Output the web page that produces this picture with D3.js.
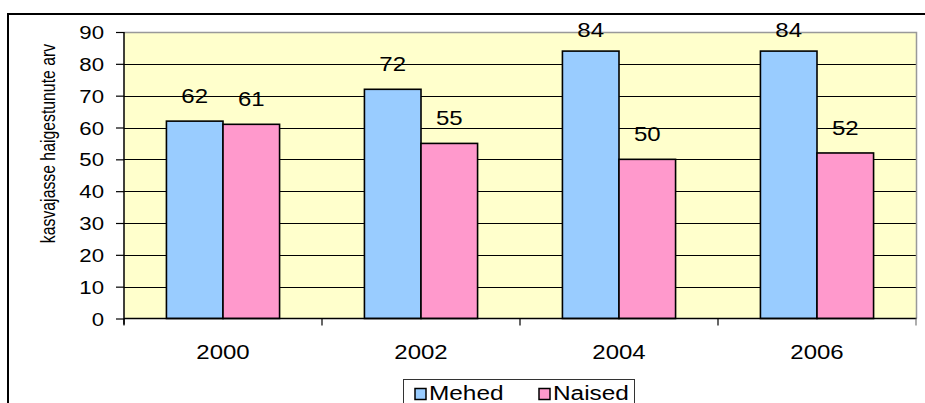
<!DOCTYPE html>
<meta charset="utf-8">
<script src="https://d3js.org/d3.v7.min.js"></script>
<style>
  body { margin: 0; background: #fff; }
  text { font-family: "Liberation Sans", Arial, sans-serif; fill: #000; }
</style>
<div id="chart"></div>
<script>
  // data
  var years = ["2000", "2002", "2004", "2006"];
  var series = ["Mehed", "Naised"];
  var mehed = [62, 72, 84, 84];
  var naised = [61, 55, 50, 52];
  var colors = ["#99CCFF", "#FF99CC"];
  var yTicks = [0, 10, 20, 30, 40, 50, 60, 70, 80, 90];
  var yTitle = "kasvajasse haigestunute arv";

  var W = 925, H = 403;
  var margin = { top: 32, right: 9, bottom: 84.5, left: 124 },
    width = W - margin.left - margin.right,
    height = H - margin.top - margin.bottom;
  var sx = 1.2; // text looks stretched sideways

  var svg = d3.select("#chart").append("svg")
    .attr("width", W).attr("height", H);

  // outer frame
  svg.append("rect")
    .attr("x", 8).attr("y", 14).attr("width", W + 10).attr("height", H + 10)
    .attr("fill", "none").attr("stroke", "#000").attr("stroke-width", 2);

  var g = svg.append("g")
    .attr("transform", "translate(" + margin.left + "," + margin.top + ")");

  var x = d3.scaleBand().domain(years).range([0, width]).padding(0);
  var x1 = d3.scaleBand().domain(series).range([0, x.bandwidth()])
    .paddingInner(0).paddingOuter(0.75);
  var y = d3.scaleLinear().domain([0, 90]).range([height, 0]);

  // plot background
  g.append("rect").attr("width", width).attr("height", height)
    .attr("fill", "#FFFFCC");

  // gridlines
  g.selectAll(".grid").data(yTicks.filter(function (d) { return d > 0 && d < 90; }))
    .enter().append("line")
    .attr("x1", 0).attr("x2", width)
    .attr("y1", function (d) { return Math.round(y(d)) + 0.5; })
    .attr("y2", function (d) { return Math.round(y(d)) + 0.5; })
    .attr("stroke", "#000").attr("stroke-width", 1);

  // gray border top / right
  g.append("path")
    .attr("d", "M0," + (Math.round(y(90)) + 0.5) + "H" + (width + 0.5) + "V" + height)
    .attr("fill", "none").attr("stroke", "#999").attr("stroke-width", 1.5);

  // bars
  var data = years.map(function (yr, i) {
    return { year: yr, vals: [mehed[i], naised[i]] };
  });
  var grp = g.selectAll(".grp").data(data).enter().append("g")
    .attr("transform", function (d) { return "translate(" + x(d.year) + ",0)"; });

  grp.selectAll("rect")
    .data(function (d) { return d.vals.map(function (v, j) { return { s: series[j], v: v, c: colors[j] }; }); })
    .enter().append("rect")
    .attr("x", function (d) { return x1(d.s); })
    .attr("y", function (d) { return y(d.v); })
    .attr("width", x1.bandwidth())
    .attr("height", function (d) { return height - y(d.v); })
    .attr("fill", function (d) { return d.c; })
    .attr("stroke", "#000").attr("stroke-width", 1.6);

  // value labels
  grp.selectAll(".lbl")
    .data(function (d) { return d.vals.map(function (v, j) { return { s: series[j], v: v }; }); })
    .enter().append("text")
    .attr("text-anchor", "middle")
    .style("font-size", "20px")
    .attr("transform", function (d) {
      var ty = Math.max(y(d.v) - 18, 5);
      return "translate(" + (x1(d.s) + x1.bandwidth() / 2) + "," + ty + ") scale(" + sx + ",1)";
    })
    .text(function (d) { return d.v; });

  // y axis
  var yAxis = g.append("g")
    .call(d3.axisLeft(y).tickValues(yTicks).tickSize(8).tickSizeOuter(0));
  yAxis.select(".domain").attr("stroke", "#000").attr("stroke-width", 1.5)
    .attr("d", "M0,0V" + (height + 6));
  yAxis.selectAll(".tick line").attr("stroke", "#000").attr("stroke-width", 1.2);
  yAxis.selectAll(".tick text")
    .attr("x", null).attr("dy", "0.36em")
    .attr("transform", "translate(-20,0) scale(" + sx + ",1)")
    .style("font-size", "18.5px")
    .style("font-family", "'Liberation Sans', Arial, sans-serif")
    .attr("fill", "#000");

  // x axis
  var xAxis = g.append("g").attr("transform", "translate(0," + height + ")");
  xAxis.append("line").attr("x1", 0).attr("x2", width + 0.5)
    .attr("stroke", "#000").attr("stroke-width", 1.5);
  xAxis.selectAll(".xt").data(years.concat(["end"])).enter().append("line")
    .attr("x1", function (d) { return d === "end" ? width : x(d); })
    .attr("x2", function (d) { return d === "end" ? width : x(d); })
    .attr("y1", 0).attr("y2", 7)
    .attr("stroke", function (d) { return d === "end" ? "#777" : "#000"; })
    .attr("stroke-width", 1.2);
  xAxis.selectAll(".xl").data(years).enter().append("text")
    .attr("text-anchor", "middle")
    .style("font-size", "20px")
    .attr("transform", function (d) {
      return "translate(" + (x(d) + x.bandwidth() / 2) + ",40) scale(" + sx + ",1)";
    })
    .text(function (d) { return d; });

  // y title
  svg.append("text")
    .attr("text-anchor", "middle")
    .style("font-size", "15.8px")
    .attr("transform", "translate(55,143.5) rotate(-90) scale(1,1.3)")
    .text(yTitle);

  // legend
  var leg = svg.append("g").attr("transform", "translate(403,379)");
  leg.append("rect").attr("x", 0.5).attr("y", 0.5).attr("width", 231).attr("height", 40)
    .attr("fill", "#fff").attr("stroke", "#333").attr("stroke-width", 1);
  var legX = [12, 136];
  series.forEach(function (s, i) {
    leg.append("rect")
      .attr("x", legX[i]).attr("y", 9.5).attr("width", 11).attr("height", 11)
      .attr("fill", colors[i]).attr("stroke", "#000").attr("stroke-width", 1.5);
    leg.append("text")
      .style("font-size", "19.5px")
      .attr("transform", "translate(" + (legX[i] + 14) + ",20.5) scale(1.25,1)")
      .text(s);
  });
</script>
